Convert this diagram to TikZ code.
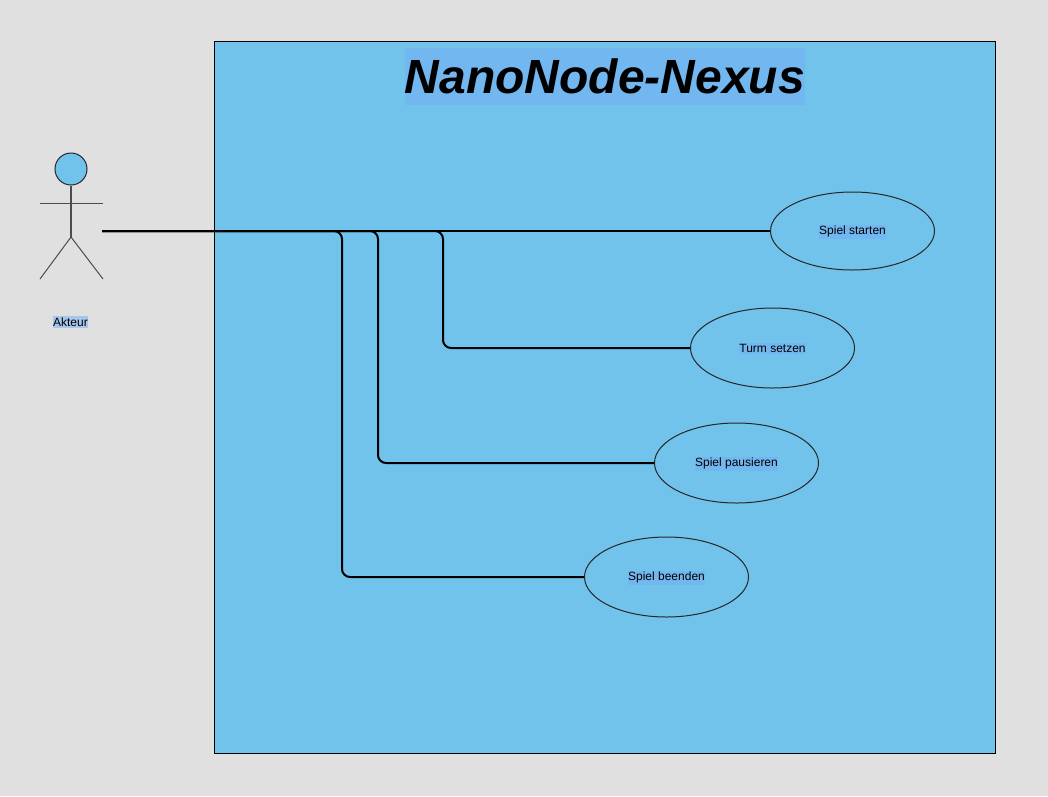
\documentclass[tikz,border=0pt]{standalone}
\usepackage{fontspec}
\setmainfont{Liberation Sans}
\usetikzlibrary{shapes.geometric}
\definecolor{pagebg}{HTML}{E0E0E0}
\definecolor{sysblue}{HTML}{72C3EC}
\definecolor{hlblue}{HTML}{73B7F0}
\definecolor{hlgray}{HTML}{A6C6EE}
\tikzset{
  x=1pt,y=-1pt,
  usecase/.style={draw=black!85,line width=1pt,ellipse,minimum width=164pt,minimum height=80pt,inner sep=0pt},
  uclabel/.style={fill=hlblue,inner xsep=0.5pt,inner ysep=1.5pt,yshift=-0.8pt,font=\fontsize{12}{14}\selectfont},
  conn/.style={draw=black,line width=2pt,rounded corners=8pt},
  stick/.style={draw=black!70,line width=1.2pt},
}
\begin{document}
\begin{tikzpicture}
\useasboundingbox (0,0) rectangle (1048,796);
\fill[pagebg] (0,0) rectangle (1048,796);
\node[draw=black,line width=0.8pt,fill=sysblue,minimum width=781pt,minimum height=712pt,inner sep=0pt] (system) at (605,397.5) {};
\node[fill=hlblue,minimum width=400pt,minimum height=57pt,inner sep=0pt,font=\fontsize{48}{54}\selectfont\bfseries\itshape] (title) at (605,76.5) {NanoNode-Nexus};
% actor
\node[circle,draw=black!85,line width=1pt,fill=sysblue,minimum size=32pt,inner sep=0pt] (head) at (71,169) {};
\coordinate (hip) at (71,237);
\coordinate (armL) at (40,203.5);
\coordinate (armR) at (103,203.5);
\coordinate (legL) at (40,279);
\coordinate (legR) at (103,279);
\coordinate (hand) at (102,231);
\draw[stick] (head.south) -- (hip);
\draw[stick] (armL) -- (armR);
\draw[stick,line width=1pt] (legL) -- (hip) -- (legR);
\node[fill=hlgray,inner xsep=0.5pt,inner ysep=1.5pt,font=\fontsize{12}{14}\selectfont] (akteur) at (70.5,322) {Akteur};
% use cases
\node[usecase,minimum height=78pt,label={[uclabel]center:Spiel starten}] (uc1) at (852.5,231) {};
\node[usecase,label={[uclabel]center:Turm setzen}] (uc2) at (772.5,348) {};
\node[usecase,label={[uclabel]center:Spiel pausieren}] (uc3) at (736.5,463) {};
\node[usecase,label={[uclabel]center:Spiel beenden}] (uc4) at (666.5,577) {};
% connectors
\draw[conn] (hand) -- (uc1.west);
\draw[conn] (hand) -| (443,348) -- (uc2.west);
\draw[conn] (hand) -| (378,463) -- (uc3.west);
\draw[conn] (hand) -| (342,577) -- (uc4.west);
\end{tikzpicture}
\end{document}
